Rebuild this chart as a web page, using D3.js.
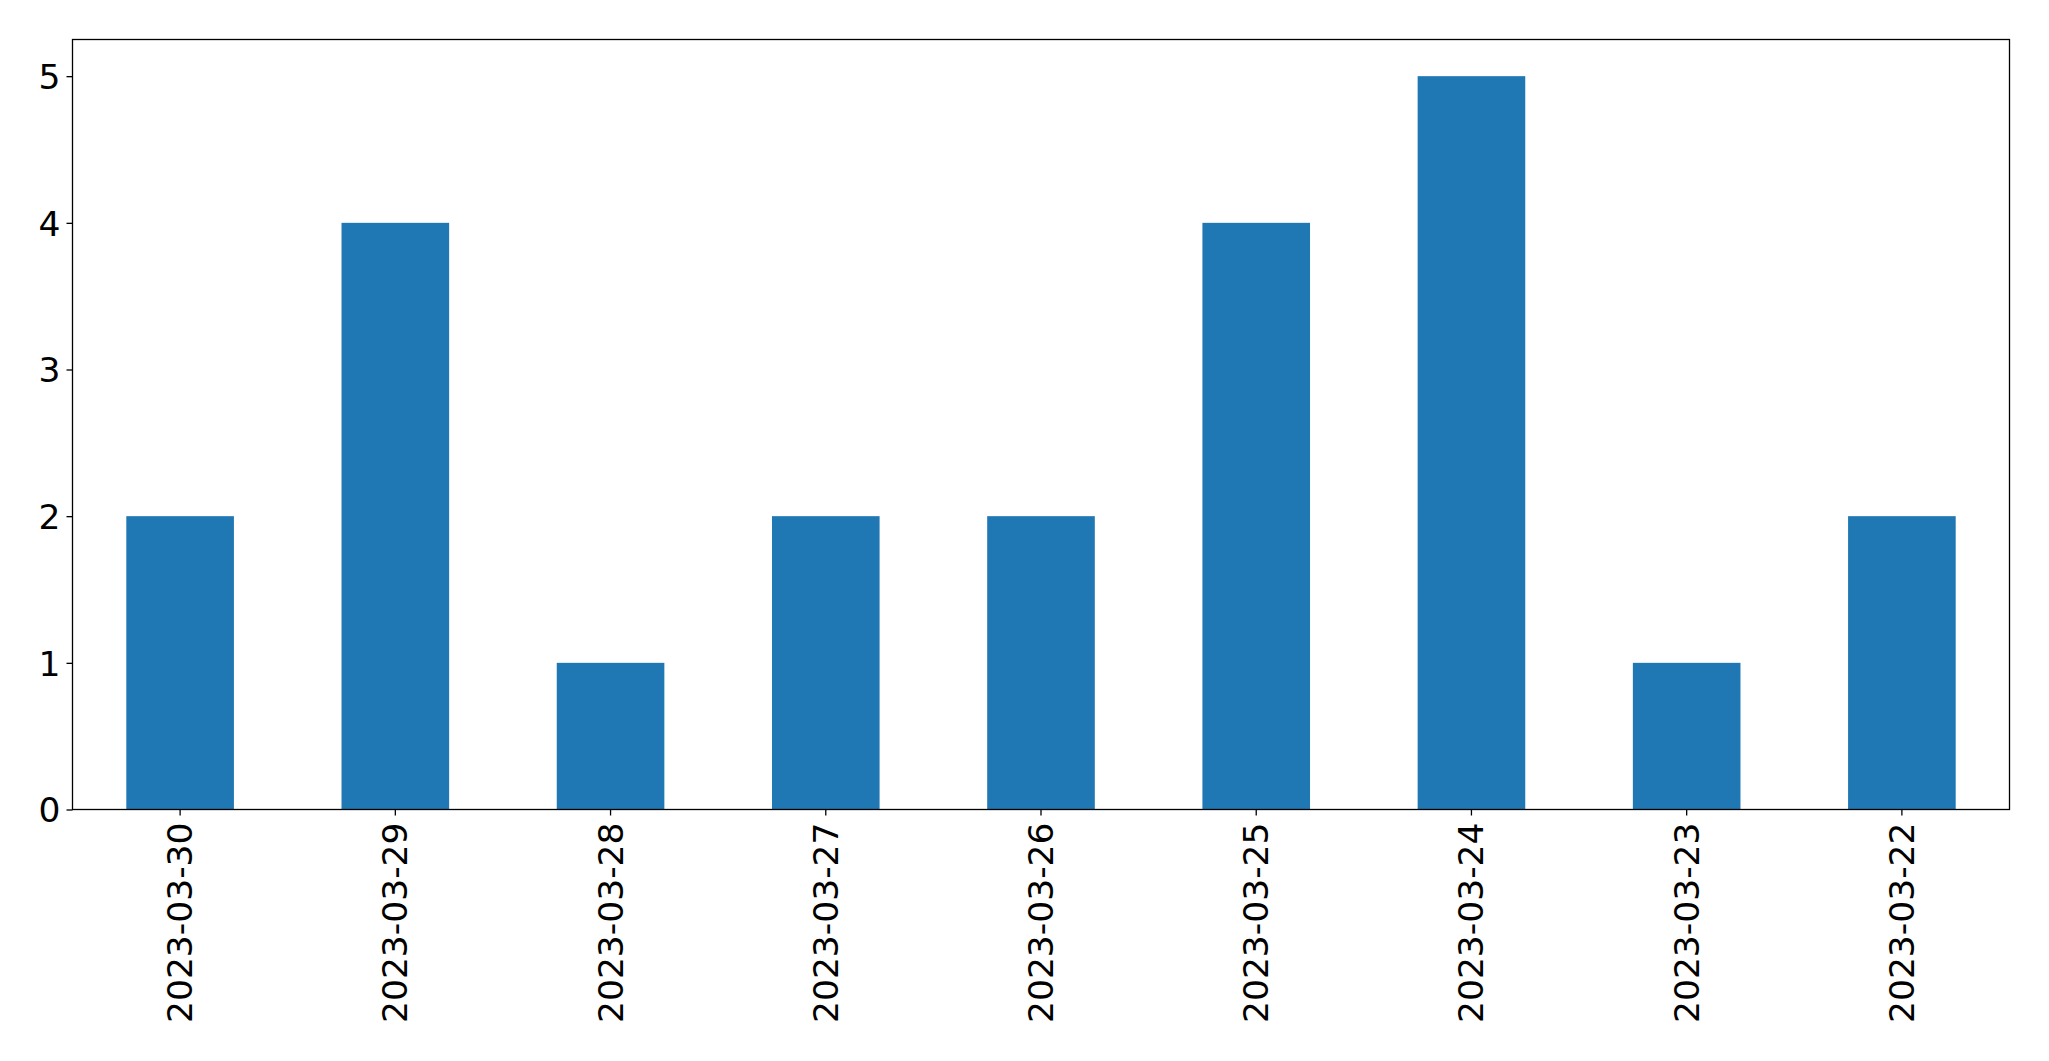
<!DOCTYPE html>
<html>
<head>
<meta charset="utf-8">
<script src="https://cdn.jsdelivr.net/npm/d3@7"></script>
<style>
  html, body { margin: 0; padding: 0; background: #fff; }
  svg { display: block; }
  text { font-family: "DejaVu Sans", sans-serif; fill: #000; }
</style>
</head>
<body>
<svg id="chart" width="2049" height="1061"></svg>
<script>
const categories = ["2023-03-30","2023-03-29","2023-03-28","2023-03-27","2023-03-26","2023-03-25","2023-03-24","2023-03-23","2023-03-22"];
const values = [2, 4, 1, 2, 2, 4, 5, 1, 2];
const yTicks = [0, 1, 2, 3, 4, 5];

const W = 2049, H = 1061;
const margin = { left: 72.5, right: 2049 - 2009.5, top: 39.5, bottom: 1061 - 809.5 };
const svg = d3.select("#chart");
const iw = W - margin.left - margin.right;
const ih = H - margin.top - margin.bottom;
const g = svg.append("g").attr("transform", `translate(${margin.left},${margin.top})`);

const x = d3.scaleBand().domain(categories).range([0, iw]).paddingInner(0.5).paddingOuter(0.25);
const y = d3.scaleLinear().domain([0, 5.25]).range([ih, 0]);

g.selectAll("rect.bar").data(values).join("rect")
  .attr("class", "bar")
  .attr("x", (d, i) => x(categories[i]))
  .attr("width", x.bandwidth())
  .attr("y", d => y(d))
  .attr("height", d => y(0) - y(d))
  .attr("fill", "#1f77b4");

const fs = 34.5;
const yAxis = g.append("g").call(d3.axisLeft(y).tickValues(yTicks).tickFormat(d3.format("d")).tickSize(6).tickPadding(6));
yAxis.select(".domain").remove();
yAxis.selectAll("text").style("font-size", fs + "px").attr("dy", "0.36em");
yAxis.selectAll("line").attr("stroke", "#000").attr("stroke-width", 1.3);

const xAxis = g.append("g").attr("transform", `translate(0,${ih})`)
  .call(d3.axisBottom(x).tickSize(6).tickPadding(0));
xAxis.select(".domain").remove();
xAxis.selectAll("line").attr("stroke", "#000").attr("stroke-width", 1.3);
xAxis.selectAll("text")
  .style("font-size", fs + "px")
  .attr("text-anchor", "end")
  .attr("dy", null)
  .attr("y", null)
  .attr("dominant-baseline", "central")
  .attr("transform", "translate(0,13) rotate(-90)");

g.append("rect").attr("x", 0).attr("y", 0).attr("width", iw).attr("height", ih)
  .attr("fill", "none").attr("stroke", "#000").attr("stroke-width", 1.3);
</script>
</body>
</html>
